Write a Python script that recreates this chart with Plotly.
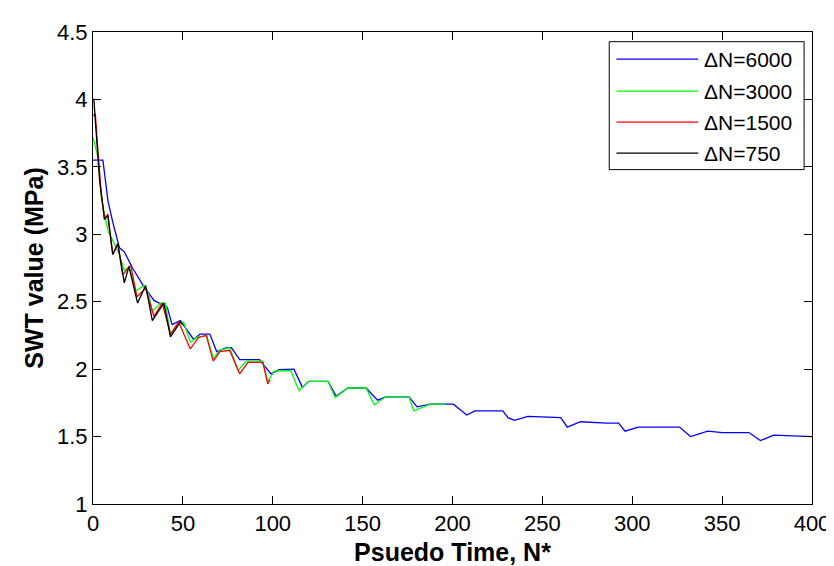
import plotly.graph_objects as go

# SWT value vs pseudo time for four block sizes
x_6000 = [0, 5.5, 8.3, 11, 14.7, 17.4, 22, 26.4, 28.4, 33.9, 41.3, 44, 48.6, 56, 59.6, 65,
          68.8, 74.3, 77, 81.6, 85.3, 92.6, 99, 103.6, 111.8, 116.5, 120, 130.7, 135.3,
          141.8, 151.9, 158.3, 162.9, 175.8, 180.3, 187.6, 200.5, 207.9, 212.5, 228,
          230.9, 234.5, 241.9, 260.2, 263.9, 271.2, 286, 292.4, 296, 303.4, 326.3, 332.4,
          342, 350.2, 364.9, 371.3, 378.7, 395.2, 400]
y_6000 = [3.55, 3.55, 3.25, 3.09, 2.90, 2.87, 2.75, 2.655, 2.61, 2.51, 2.46, 2.33, 2.36,
          2.22, 2.26, 2.26, 2.13, 2.16, 2.16, 2.07, 2.07, 2.07, 1.965, 1.997, 2.0, 1.865,
          1.91, 1.91, 1.80, 1.86, 1.86, 1.77, 1.795, 1.795, 1.72, 1.74, 1.74, 1.66, 1.69,
          1.69, 1.64, 1.62, 1.65, 1.64, 1.57, 1.61, 1.60, 1.60, 1.54, 1.57, 1.57, 1.50,
          1.54, 1.53, 1.53, 1.47, 1.51, 1.50, 1.50]

x_3000 = [0, 2.75, 4.6, 8.25, 11.9, 14.7, 17.4, 20, 23.8, 28.4, 31, 33, 37.6, 40.3, 43.1,
          47.7, 50.4, 54.1, 57.8, 63.3, 66.9, 70.6, 76, 80.7, 85.3, 94.5, 97.2, 100.9, 110,
          114.6, 120, 130.7, 134.7, 141.8, 151.9, 156.5, 162.9, 175.8, 178.5, 187.6, 196]
y_3000 = [3.72, 3.57, 3.27, 3.03, 2.93, 2.85, 2.73, 2.76, 2.58, 2.62, 2.55, 2.43, 2.49,
          2.49, 2.26, 2.34, 2.35, 2.20, 2.235, 2.25, 2.08, 2.14, 2.16, 1.99, 2.06, 2.06,
          1.91, 1.985, 1.99, 1.84, 1.91, 1.91, 1.79, 1.86, 1.86, 1.735, 1.795, 1.795,
          1.69, 1.74, 1.74]

x_1500 = [0, 1.3, 2, 4.6, 6.4, 8.25, 10, 11, 13.8, 16.5, 21, 24.4, 29.3, 33.9, 38.5, 43.1,
          47.7, 54.1, 58.7, 63, 66.9, 70.6, 76, 81.6, 86.2, 94.5, 97.2, 98.5]
y_1500 = [3.88, 3.89, 3.75, 3.30, 3.11, 3.15, 2.95, 2.85, 2.93, 2.70, 2.77, 2.535, 2.60,
          2.39, 2.49, 2.26, 2.35, 2.15, 2.235, 2.25, 2.06, 2.13, 2.14, 1.965, 2.05, 2.05,
          1.89, 1.92]

x_750 = [0, 0.5, 1, 3.7, 5.5, 6.4, 8.25, 10, 11, 13.8, 15.6, 17.4, 20, 24.8, 29.3, 33,
         39.4, 43.1, 48.6, 50]
y_750 = [4.0, 4.0, 3.9, 3.40, 3.21, 3.11, 3.14, 2.94, 2.85, 2.93, 2.78, 2.64, 2.76, 2.49,
         2.62, 2.36, 2.49, 2.24, 2.35, 2.33]

names = ['\u0394N=6000', '\u0394N=3000', '\u0394N=1500', '\u0394N=750']
colors = ['rgb(0,0,255)', 'rgb(0,255,0)', 'rgb(255,0,0)', 'rgb(0,0,0)']
xs_all = [x_6000, x_3000, x_1500, x_750]
ys_all = [y_6000, y_3000, y_1500, y_750]

font = 'Liberation Sans, Arial, sans-serif'

fig = go.Figure()
for name, xs, ys, col in zip(names, xs_all, ys_all, colors):
    fig.add_trace(go.Scatter(x=xs, y=ys, mode='lines', name=name, showlegend=False,
                             line=dict(color=col, width=1.3)))

# MATLAB-style legend box (long line samples)
leg_x0, leg_x1 = 0.718, 0.989
leg_top, leg_bot = 0.9795, 0.7084
row_y = [0.9425, 0.8747, 0.809, 0.7433]
fig.add_shape(type='rect', xref='paper', yref='paper', x0=leg_x0, x1=leg_x1,
              y0=leg_bot, y1=leg_top, line=dict(color='black', width=1),
              fillcolor='white', layer='above')
for name, col, yy in zip(names, colors, row_y):
    fig.add_shape(type='line', xref='paper', yref='paper', x0=0.728, x1=0.8418,
                  y0=yy, y1=yy, line=dict(color=col, width=1.3), layer='above')
    fig.add_annotation(x=0.8473, y=yy, xref='paper', yref='paper', text=name,
                       showarrow=False, xanchor='left', yanchor='middle',
                       font=dict(family=font, size=21, color='black'))

axis_common = dict(showline=True, linecolor='black', linewidth=1, mirror='ticks',
                   ticks='inside', ticklen=8, tickcolor='black', showgrid=False,
                   zeroline=False, tickfont=dict(family=font, size=22, color='black'))

fig.update_layout(
    width=834, height=566,
    margin=dict(l=85, r=22, t=20, b=59),
    plot_bgcolor='white', paper_bgcolor='white',
    showlegend=False,
    xaxis=dict(range=[0, 400], tickmode='linear', tick0=0, dtick=50,
               title=dict(text='Psuedo Time, N*', standoff=8,
                          font=dict(family=font, size=25, color='black', weight='bold')),
               **axis_common),
    yaxis=dict(range=[1, 4.5], tickmode='linear', tick0=1, dtick=0.5,
               title=dict(text='SWT value (MPa)', standoff=6,
                          font=dict(family=font, size=25, color='black', weight='bold')),
               **axis_common),
)

fig.write_html("out.html")
